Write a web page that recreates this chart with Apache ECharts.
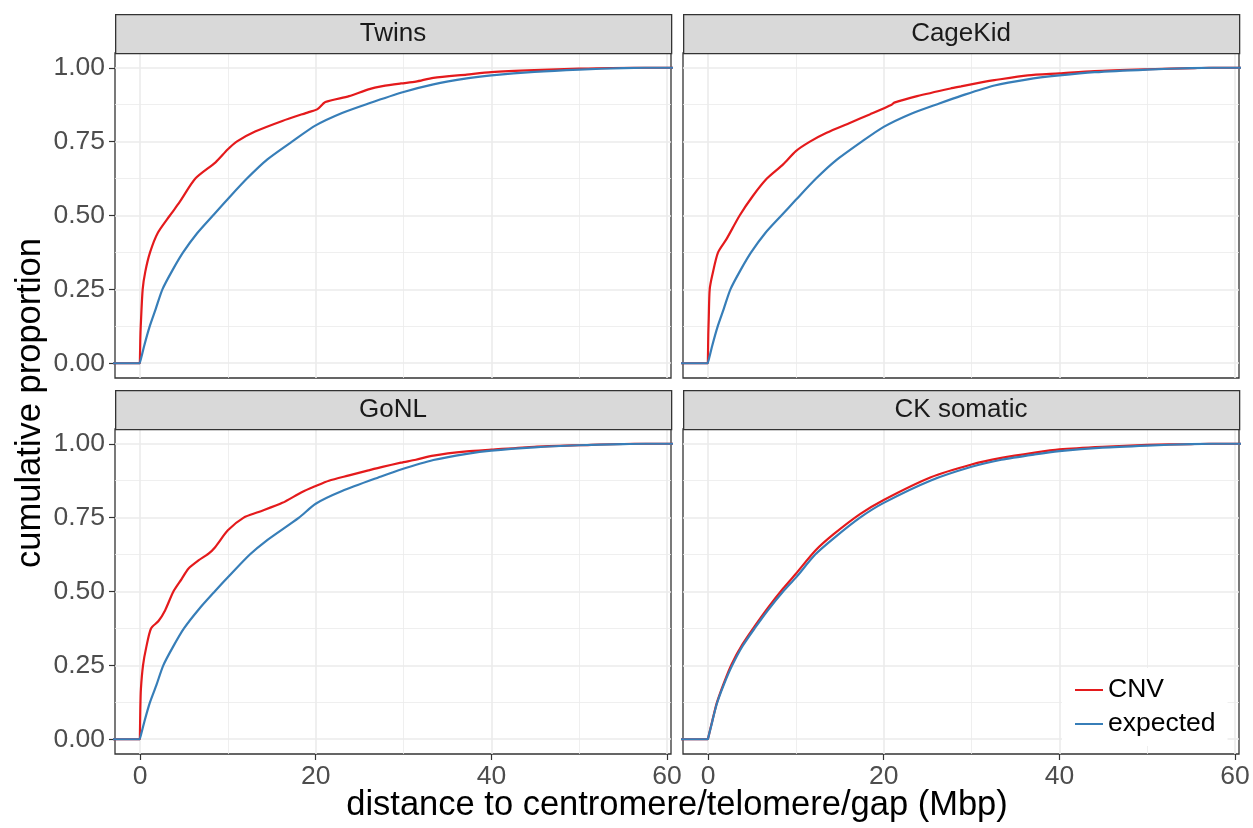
<!DOCTYPE html>
<html>
<head>
<meta charset="utf-8">
<script src="https://cdn.jsdelivr.net/npm/echarts@6/dist/echarts.min.js"></script>
<style>html,body{margin:0;padding:0;background:#fff}#c{width:1253px;height:828px}</style>
</head>
<body>
<div id="c"></div>
<script>
// ---- data ----
const panels = ['Twins', 'CageKid', 'GoNL', 'CK somatic'];
const seriesNames = ['CNV', 'expected'];
const xMajorTicks = [0, 20, 40, 60];
const xMinorTicks = [10, 30, 50];
const yMajorTicks = [0, 0.25, 0.5, 0.75, 1];
const yMinorTicks = [0.125, 0.375, 0.625, 0.875];

const twinsCnvX = [0, 0.03, 0.08, 0.3, 0.6, 1.14, 2, 3.4, 4.5, 6.3, 8.6, 10, 11, 13.1, 16.2, 19.2, 20.2, 21.1, 23.8, 26, 27.6, 29.7, 31.4, 33.4, 37.2, 40, 44.9, 50, 56.3];
const twinsCnvY = [0, 0.08, 0.125, 0.25, 0.31, 0.375, 0.44, 0.5, 0.545, 0.625, 0.68, 0.724, 0.75, 0.784, 0.82, 0.85, 0.86, 0.884, 0.904, 0.927, 0.938, 0.947, 0.953, 0.966, 0.977, 0.985, 0.992, 0.997, 1.0];
const twinsExpX = [0, 0.5, 1.1, 1.8, 2.55, 3.7, 4.9, 6.5, 8.3, 10, 12.17, 14.5, 17.3, 20, 23, 26, 30, 33.4, 37.2, 40, 44.9, 50, 55, 57.5];
const twinsExpY = [0, 0.062, 0.125, 0.185, 0.25, 0.315, 0.375, 0.44, 0.5, 0.556, 0.625, 0.69, 0.75, 0.805, 0.847, 0.879, 0.918, 0.944, 0.964, 0.974, 0.986, 0.994, 0.999, 1.0];

const cagekidCnvX = [0, 0.03, 0.08, 0.19, 0.5, 1.14, 2.1, 3.6, 5.1, 6.7, 8.55, 10, 11.6, 13.5, 16.2, 18.4, 20.9, 21.2, 23.8, 27.6, 28.8, 31.4, 32.6, 36.4, 40, 44, 50, 55.4, 57];
const cagekidCnvY = [0, 0.1, 0.15, 0.25, 0.3, 0.375, 0.42, 0.5, 0.566, 0.625, 0.673, 0.718, 0.75, 0.78, 0.814, 0.842, 0.875, 0.882, 0.904, 0.93, 0.937, 0.952, 0.958, 0.974, 0.981, 0.989, 0.995, 0.999, 1.0];
const cagekidExpX = [0, 0.5, 1.1, 1.8, 2.55, 3.7, 4.9, 6.5, 8.35, 10, 12.3, 14.5, 17.5, 20, 23, 26.4, 28.8, 32.6, 36.4, 40, 44, 50, 55, 57.5];
const cagekidExpY = [0, 0.062, 0.125, 0.185, 0.25, 0.315, 0.375, 0.44, 0.5, 0.553, 0.625, 0.685, 0.75, 0.8, 0.843, 0.88, 0.905, 0.94, 0.961, 0.974, 0.985, 0.994, 0.999, 1.0];

const gonlCnvX = [0, 0.03, 0.1, 0.34, 0.7, 1.25, 2.1, 2.85, 3.8, 4.75, 5.5, 6.65, 7.8, 8.55, 10, 11.8, 13.5, 16.2, 18.4, 20, 21.5, 23.8, 26, 27.6, 29.7, 31.4, 33.4, 37.2, 40, 44.9, 50, 56.3];
const gonlCnvY = [0, 0.1, 0.17, 0.25, 0.31, 0.375, 0.4, 0.436, 0.5, 0.543, 0.577, 0.605, 0.628, 0.65, 0.707, 0.75, 0.769, 0.8, 0.836, 0.857, 0.875, 0.893, 0.91, 0.922, 0.936, 0.946, 0.96, 0.974, 0.98, 0.99, 0.995, 1.0];
const gonlExpX = [0, 0.5, 1.1, 1.85, 2.65, 3.8, 5.0, 6.7, 8.5, 10, 12.5, 14.3, 18.1, 20, 23, 27.6, 29.7, 33.4, 37.2, 40, 44.9, 50, 55, 57.5];
const gonlExpY = [0, 0.06, 0.122, 0.182, 0.25, 0.315, 0.375, 0.44, 0.5, 0.548, 0.625, 0.67, 0.75, 0.797, 0.84, 0.891, 0.913, 0.945, 0.966, 0.977, 0.988, 0.995, 0.999, 1.0];

const somaticCnvX = [0, 0.5, 1, 1.8, 2.7, 3.9, 5.3, 6.9, 8.55, 10, 12.2, 14.3, 17.3, 20, 25.3, 30, 33.4, 37.2, 40, 44.9, 50, 55, 57];
const somaticCnvY = [0, 0.064, 0.123, 0.19, 0.255, 0.32, 0.382, 0.448, 0.51, 0.56, 0.638, 0.694, 0.762, 0.81, 0.886, 0.93, 0.952, 0.97, 0.981, 0.99, 0.996, 0.999, 1.0];
const somaticExpX = [0, 0.5, 1, 1.8, 2.75, 3.9, 5.3, 6.9, 8.55, 10, 12.2, 14.3, 17.3, 20, 25.3, 30, 33.4, 37.2, 40, 44.9, 50, 55, 57.5];
const somaticExpY = [0, 0.062, 0.12, 0.185, 0.25, 0.314, 0.375, 0.44, 0.5, 0.547, 0.625, 0.68, 0.75, 0.8, 0.875, 0.922, 0.946, 0.964, 0.975, 0.987, 0.994, 0.999, 1.0];

const cnvX = [twinsCnvX, cagekidCnvX, gonlCnvX, somaticCnvX];
const cnvY = [twinsCnvY, cagekidCnvY, gonlCnvY, somaticCnvY];
const expX = [twinsExpX, cagekidExpX, gonlExpX, somaticExpX];
const expY = [twinsExpY, cagekidExpY, gonlExpY, somaticExpY];

// ---- layout / style ----
const FONT = 'Liberation Sans, Arial, Helvetica, sans-serif';
const X_MIN = -2.85, X_MAX = 60.45, Y_MIN = -0.05, Y_MAX = 1.05;
const COLORS = ['#E41A1C', '#377EB8'];
const TICK_FS = 26.5, TITLE_FS = 34.5;
const grids = [
  {left: 115, top: 53, width: 556, height: 325},
  {left: 683, top: 53, width: 556, height: 325},
  {left: 115, top: 429, width: 556, height: 325},
  {left: 683, top: 429, width: 556, height: 325}
];

// ECDF is 0 before the first observation and stays at its last value after the last one
function ecdf(xs, ys) {
  const pts = [[X_MIN - 1, 0], [xs[0] - 0.02, 0]];
  for (let i = 0; i < xs.length; i++) pts.push([xs[i], ys[i]]);
  pts.push([X_MAX + 1, ys[ys.length - 1]]);
  return pts;
}

const xAxes = [], yAxes = [], series = [], graphics = [];
grids.forEach((g, i) => {
  const bottomRow = i >= 2, leftCol = i % 2 === 0;
  xAxes.push({
    type: 'value', gridIndex: i, min: X_MIN, max: X_MAX, position: 'bottom',
    axisLine: {show: false, onZero: false},
    axisTick: {show: bottomRow, length: 6, lineStyle: {color: '#333333', width: 1.2}, customValues: xMajorTicks},
    axisLabel: {show: bottomRow, customValues: xMajorTicks, color: '#4D4D4D', fontSize: TICK_FS, fontFamily: FONT, margin: 9},
    splitLine: {show: true, lineStyle: {color: '#EBEBEB', width: 1.6}}
  });
  yAxes.push({
    type: 'value', gridIndex: i, min: Y_MIN, max: Y_MAX, position: 'left',
    axisLine: {show: false, onZero: false},
    axisTick: {show: leftCol, length: 6, lineStyle: {color: '#333333', width: 1.2}, customValues: yMajorTicks},
    axisLabel: {show: leftCol, customValues: yMajorTicks, color: '#4D4D4D', fontSize: TICK_FS, fontFamily: FONT, margin: 10,
      formatter: v => v.toFixed(2)},
    splitLine: {show: true, lineStyle: {color: '#EBEBEB', width: 1.6}}
  });
  graphics.push({
    type: 'rect', left: g.left, top: bottomRow ? 390 : 14, z: 10,
    shape: {width: g.width, height: 39},
    style: {fill: '#D9D9D9', stroke: '#333333', lineWidth: 1.3}
  });
  graphics.push({
    type: 'text', x: g.left + g.width / 2, y: (bottomRow ? 390 : 14) + 20, z: 11,
    style: {text: panels[i], font: '26px ' + FONT, fill: '#1A1A1A', textAlign: 'center', textVerticalAlign: 'middle'}
  });
});
// minor grid axes
grids.forEach((g, i) => {
  xAxes.push({
    type: 'value', gridIndex: i, min: X_MIN, max: X_MAX, position: 'top',
    axisLine: {show: false, onZero: false}, axisLabel: {show: false},
    axisTick: {show: false, customValues: xMinorTicks},
    splitLine: {show: true, lineStyle: {color: '#EBEBEB', width: 0.8}}
  });
  yAxes.push({
    type: 'value', gridIndex: i, min: Y_MIN, max: Y_MAX, position: 'right',
    axisLine: {show: false, onZero: false}, axisLabel: {show: false},
    axisTick: {show: false, customValues: yMinorTicks},
    splitLine: {show: true, lineStyle: {color: '#EBEBEB', width: 0.8}}
  });
});

grids.forEach((g, i) => {
  [[cnvX[i], cnvY[i]], [expX[i], expY[i]]].forEach((d, k) => {
    series.push({
      name: seriesNames[k], type: 'line', xAxisIndex: i, yAxisIndex: i,
      data: ecdf(d[0], d[1]), showSymbol: false, symbol: 'none', clip: true,
      smooth: 0.25,
      lineStyle: {color: COLORS[k], width: 2.2}, itemStyle: {color: COLORS[k]},
      z: 3 + k, animation: false
    });
  });
});

graphics.push({
  type: 'text', x: 30, y: 403, rotation: Math.PI / 2, z: 11,
  style: {text: 'cumulative proportion', font: TITLE_FS + 'px ' + FONT, fill: '#000', textAlign: 'center', textVerticalAlign: 'middle'}
});
graphics.push({
  type: 'text', x: 677, y: 805, z: 11,
  style: {text: 'distance to centromere/telomere/gap (Mbp)', font: TITLE_FS + 'px ' + FONT, fill: '#000', textAlign: 'center', textVerticalAlign: 'middle'}
});

const chart = echarts.init(document.getElementById('c'), null, {renderer: 'canvas'});
chart.setOption({
  animation: false,
  backgroundColor: '#ffffff',
  grid: grids.map(g => Object.assign({show: true, borderColor: '#333333', borderWidth: 1.3, backgroundColor: 'transparent', containLabel: false}, g)),
  xAxis: xAxes,
  yAxis: yAxes,
  series: series,
  legend: {
    data: seriesNames, orient: 'vertical', left: 1062, top: 668,
    icon: 'rect', itemWidth: 28, itemHeight: 2, itemGap: 6,
    backgroundColor: '#ffffff', padding: [8, 12, 8, 13],
    textStyle: {fontSize: TICK_FS, fontFamily: FONT, color: '#000', lineHeight: 28}
  },
  graphic: graphics
});
</script>
</body>
</html>
